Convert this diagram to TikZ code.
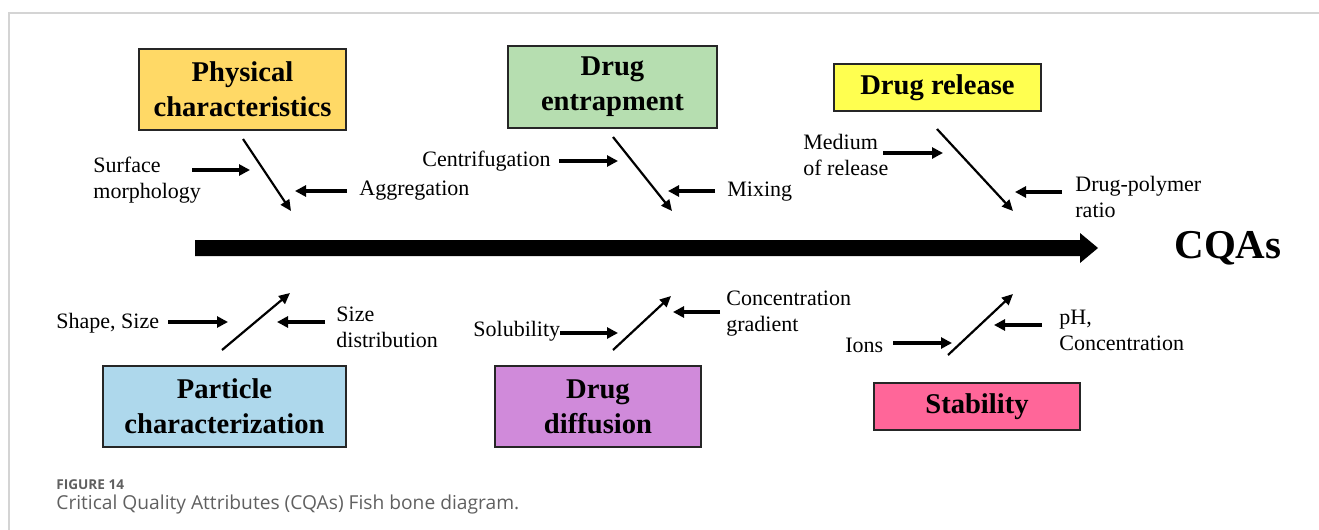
\documentclass[tikz,border=0pt]{standalone}
\usepackage{fontspec}
\setmainfont{Liberation Serif}
\newfontfamily\capfont{Open Sans}
\usetikzlibrary{arrows.meta}
\definecolor{physc}{HTML}{FFD966}
\definecolor{entrc}{HTML}{B6DEB0}
\definecolor{relc}{HTML}{FFFF50}
\definecolor{partc}{HTML}{AED8EC}
\definecolor{diffc}{HTML}{D08ADA}
\definecolor{stabc}{HTML}{FF6699}
\definecolor{framec}{HTML}{D4D4D4}
\definecolor{capc}{HTML}{606060}
\tikzset{
  catbox/.style={draw=black!85, line width=0.7pt, inner sep=0pt, align=center,
    font=\fontsize{14.3}{17.5}\selectfont\bfseries},
  lbl/.style={inner sep=0pt, anchor=west, align=left,
    font=\fontsize{11}{13}\selectfont},
  bone/.style={line width=1.1pt, -{Triangle[length=5.5pt,width=5pt]}},
  cause/.style={line width=1.6pt, -{Triangle[length=5.5pt,width=5.5pt]}},
}
\begin{document}
\begin{tikzpicture}[x=0.5pt,y=-0.5pt]
\useasboundingbox (0,0) rectangle (1319,530);
% frame
\draw[framec, line width=1pt] (9,530) -- (9,13) -- (1319,13);

% category boxes
\node[catbox, fill=physc, minimum width=103.5pt, minimum height=40.5pt] (phys) at (242.5,89.5) {Physical\\characteristics};
\node[catbox, fill=entrc, minimum width=104.5pt, minimum height=41pt] (entr) at (612.5,87) {Drug\\entrapment};
\node[catbox, fill=relc, minimum width=103.5pt, minimum height=23.5pt] (rel) at (937.5,87.5) {Drug release};
\node[catbox, fill=partc, minimum width=121.5pt, minimum height=40.5pt] (part) at (224.5,406.5) {Particle\\characterization};
\node[catbox, fill=diffc, minimum width=103pt, minimum height=40.5pt] (diff) at (598,406.5) {Drug\\diffusion};
\node[catbox, fill=stabc, minimum width=103pt, minimum height=23.5pt] (stab) at (977,406.5) {Stability};

% spine
\coordinate (spS) at (195,248);
\coordinate (spE) at (1098,248);
\fill (195,240) -- (1080,240) -- (1080,233) -- (spE) -- (1080,263) -- (1080,256) -- (195,256) -- cycle;
\node[inner sep=0pt, font=\fontsize{20.5}{24}\selectfont\bfseries] (cqa) at (1228,248) {CQAs};

% bones
\coordinate (b1s) at (243,139); \coordinate (b1e) at (291,211);
\coordinate (b2s) at (613,137); \coordinate (b2e) at (672,211);
\coordinate (b3s) at (937,129); \coordinate (b3e) at (1013,211);
\coordinate (b4s) at (222,350); \coordinate (b4e) at (290,293);
\coordinate (b5s) at (613,350); \coordinate (b5e) at (671,296);
\coordinate (b6s) at (948,355); \coordinate (b6e) at (1013,294);
\draw[bone] (b1s) -- (b1e);
\draw[bone] (b2s) -- (b2e);
\draw[bone] (b3s) -- (b3e);
\draw[bone] (b4s) -- (b4e);
\draw[bone] (b5s) -- (b5e);
\draw[bone] (b6s) -- (b6e);

% labels
\node[lbl] (surf) at (93,180) {Surface\\morphology};
\node[lbl] (aggr) at (359,191) {Aggregation};
\node[lbl] (cent) at (422,161) {Centrifugation};
\node[lbl] (mix) at (727,192) {Mixing};
\node[lbl] (med) at (803,155) {Medium\\of release};
\node[lbl] (dp) at (1075,197) {Drug-polymer\\ratio};
\node[lbl] (shape) at (56,323) {Shape, Size};
\node[lbl] (sized) at (336,327) {Size\\distribution};
\node[lbl] (sol) at (473,331) {Solubility};
\node[lbl] (conc) at (726,314) {Concentration\\gradient};
\node[lbl] (ions) at (845,345) {Ions};
\node[lbl] (ph) at (1059,330) {pH,\\Concentration};

% cause arrows
\coordinate (c1s) at (192,170); \coordinate (c1e) at (250,170);
\coordinate (c2s) at (347,191); \coordinate (c2e) at (295,191);
\coordinate (c3s) at (559,161); \coordinate (c3e) at (618,161);
\coordinate (c4s) at (715,191); \coordinate (c4e) at (668,191);
\coordinate (c5s) at (883,153); \coordinate (c5e) at (943,153);
\coordinate (c6s) at (1062,192); \coordinate (c6e) at (1015,192);
\coordinate (c7s) at (168,322); \coordinate (c7e) at (228,322);
\coordinate (c8s) at (325,322); \coordinate (c8e) at (277,322);
\coordinate (c9s) at (560,333); \coordinate (c9e) at (618,333);
\coordinate (c10s) at (720,312); \coordinate (c10e) at (673,312);
\coordinate (c11s) at (893,343); \coordinate (c11e) at (952,343);
\coordinate (c12s) at (1042,325); \coordinate (c12e) at (994,325);
\foreach \i in {1,...,12} { \draw[cause] (c\i s) -- (c\i e); }

% caption
\node[inner sep=0pt, anchor=west, text=capc, font=\capfont\fontsize{6.8}{9}\selectfont\bfseries] (fig) at (56,485) {FIGURE 14};
\node[inner sep=0pt, anchor=west, text=capc, font=\capfont\fontsize{9.6}{11}\selectfont] (cap) at (56,505) {Critical Quality Attributes (CQAs) Fish bone diagram.};
\end{tikzpicture}
\end{document}
